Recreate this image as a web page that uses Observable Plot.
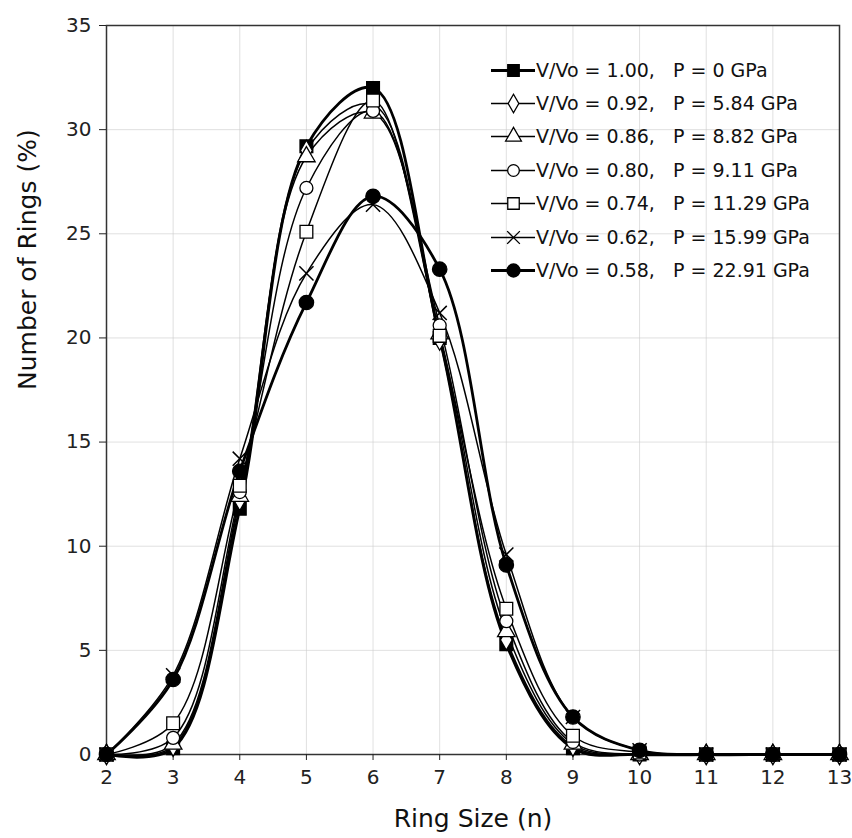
<!DOCTYPE html>
<html>
<head>
<meta charset="utf-8">
<script src="https://cdn.jsdelivr.net/npm/d3@7"></script>
<script src="https://cdn.jsdelivr.net/npm/@observablehq/plot@0.6"></script>
<style>
  body { margin: 0; background: #fff; }
  #wrap { position: relative; width: 852px; height: 838px; font-family: "DejaVu Sans", sans-serif; }
  #legend { position: absolute; left: 491px; top: 53px; }
  .row { display: flex; align-items: center; height: 33.4px; }
  .row span { white-space: pre; font-size: 19px; color: #111; margin-left: 1px; }
</style>
</head>
<body>
<div id="wrap"><div id="legend"></div></div>
<script>
const ringSize = [2, 3, 4, 5, 6, 7, 8, 9, 10, 11, 12, 13];
const v100 = [0, 0.3, 11.8, 29.2, 32.0, 20.0, 5.3, 0.3, 0, 0, 0, 0];
const v092 = [0, 0.4, 12.2, 29.0, 31.2, 19.9, 5.5, 0.4, 0, 0, 0, 0];
const v086 = [0, 0.5, 12.4, 28.7, 30.8, 20.2, 5.9, 0.5, 0, 0, 0, 0];
const v080 = [0, 0.8, 12.6, 27.2, 30.9, 20.6, 6.4, 0.6, 0, 0, 0, 0];
const v074 = [0, 1.5, 12.9, 25.1, 31.4, 20.1, 7.0, 0.9, 0.1, 0, 0, 0];
const v062 = [0, 3.8, 14.2, 23.1, 26.4, 21.2, 9.6, 1.8, 0.2, 0, 0, 0];
const v058 = [0, 3.6, 13.6, 21.7, 26.8, 23.3, 9.1, 1.8, 0.2, 0, 0, 0];
const yTicks = [0, 5, 10, 15, 20, 25, 30, 35];
const seriesLabels = [
  "V/Vo = 1.00,   P = 0 GPa",
  "V/Vo = 0.92,   P = 5.84 GPa",
  "V/Vo = 0.86,   P = 8.82 GPa",
  "V/Vo = 0.80,   P = 9.11 GPa",
  "V/Vo = 0.74,   P = 11.29 GPa",
  "V/Vo = 0.62,   P = 15.99 GPa",
  "V/Vo = 0.58,   P = 22.91 GPa"
];
const seriesValues = [v100, v092, v086, v080, v074, v062, v058];
const styles = [
  {symbol: "square", fill: "#000", r: 7.2, sw: 2.8},
  {symbol: "diamond", fill: "#fff", r: 6.2, sw: 1.5},
  {symbol: "triangle", fill: "#fff", r: 6.5, sw: 1.5},
  {symbol: "circle", fill: "#fff", r: 6.5, sw: 1.5},
  {symbol: "square", fill: "#fff", r: 7.2, sw: 1.5},
  {symbol: "times", fill: "none", r: 6.5, sw: 1.5},
  {symbol: "circle", fill: "#000", r: 7.2, sw: 2.8}
];

const marks = [
  Plot.gridX(ringSize, {stroke: "#ccc", strokeOpacity: 0.6}),
  Plot.gridY(yTicks, {stroke: "#ccc", strokeOpacity: 0.6}),
  Plot.frame({stroke: "#333", strokeWidth: 1.5}),
  Plot.axisX({ticks: ringSize, tickFormat: d => d, label: null, fontSize: 20, tickSize: 6, tickPadding: 9, color: "#222"}),
  Plot.axisY({ticks: yTicks, label: null, fontSize: 20, tickSize: 7, tickPadding: 8, color: "#222"}),
  Plot.text(["Ring Size (n)"], {frameAnchor: "bottom", dy: 72, fontSize: 25, fill: "#111"}),
  Plot.text(["Number of Rings (%)"], {frameAnchor: "left", dx: -79, rotate: -90, fontSize: 25, fill: "#111"})
];
seriesValues.forEach((vals, i) => {
  const data = ringSize.map((x, j) => ({x, y: vals[j]}));
  const s = styles[i];
  marks.push(Plot.line(data, {x: "x", y: "y", curve: "catmull-rom", stroke: "#000", strokeWidth: s.sw}));
});
seriesValues.forEach((vals, i) => {
  const data = ringSize.map((x, j) => ({x, y: vals[j]}));
  const s = styles[i];
  marks.push(Plot.dot(data, {x: "x", y: "y", symbol: s.symbol, r: s.r, fill: s.fill, stroke: "#000", strokeWidth: s.symbol === "times" ? 1.5 : 1.3}));
});

const chart = Plot.plot({
  width: 852,
  height: 838,
  marginLeft: 106,
  marginRight: 13,
  marginTop: 25,
  marginBottom: 84,
  style: {fontFamily: "DejaVu Sans, sans-serif", fontSize: "20px", background: "#fff"},
  x: {domain: [2, 13]},
  y: {domain: [0, 35]},
  marks
});
document.getElementById("wrap").prepend(chart);

// legend
const legend = document.getElementById("legend");
seriesLabels.forEach((label, i) => {
  const s = styles[i];
  const row = document.createElement("div");
  row.className = "row";
  const sym = Plot.plot({
    width: 44, height: 22, margin: 0,
    x: {domain: [0, 1], axis: null}, y: {domain: [0, 1], axis: null},
    marks: [
      Plot.ruleY([0.5], {x1: 0, x2: 1, stroke: "#000", strokeWidth: s.sw}),
      Plot.dot([0.5], {x: d => d, y: 0.5, symbol: s.symbol, r: s.r * 0.9, fill: s.fill === "none" ? "#fff" : s.fill, stroke: "#000", strokeWidth: 1.3})
    ]
  });
  row.appendChild(sym);
  const t = document.createElement("span");
  t.textContent = label;
  row.appendChild(t);
  legend.appendChild(row);
});
</script>
</body>
</html>
